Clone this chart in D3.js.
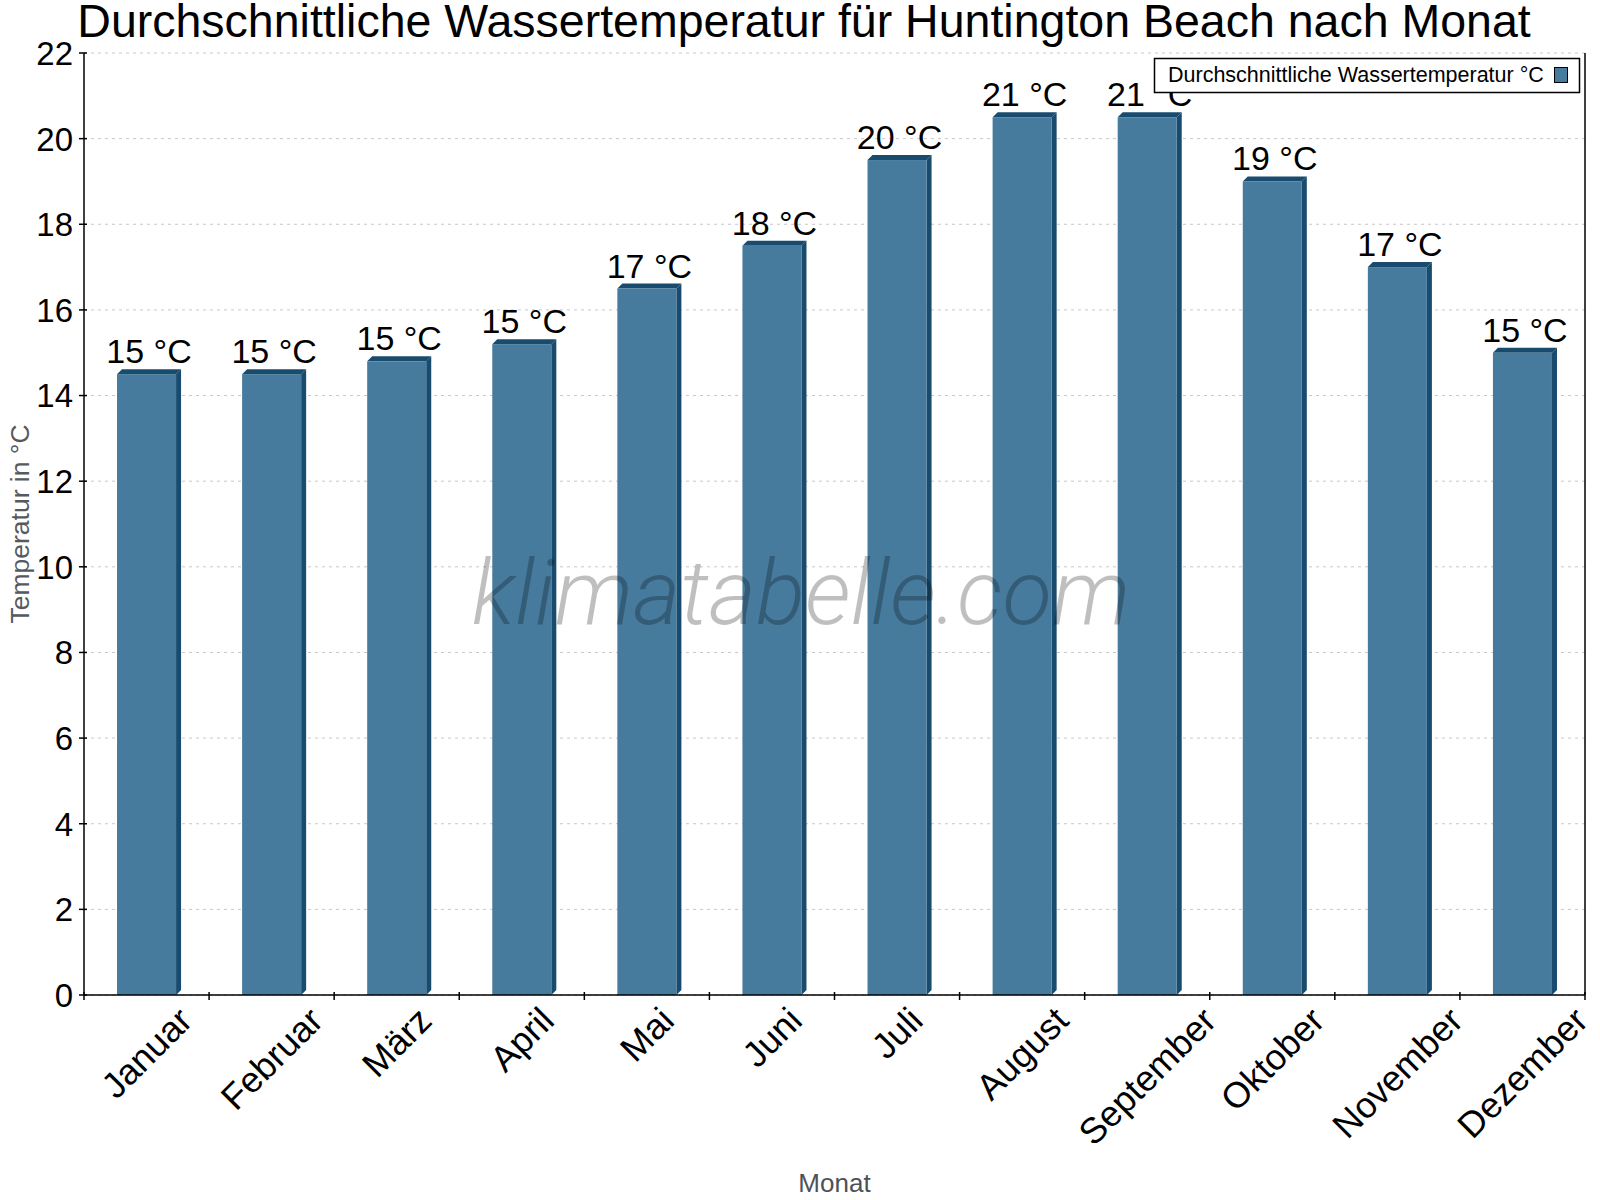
<!DOCTYPE html>
<html>
<head>
<meta charset="utf-8">
<script src="https://cdn.jsdelivr.net/npm/d3@7/dist/d3.min.js"></script>
<style>
    html, body { margin: 0; padding: 0; background: #fff; overflow: hidden; }
    svg { display: block; font-family: "Liberation Sans", Arial, sans-serif; }
</style>
</head>
<body>
<div id="chart"></div>
<script>
// Wassertemperatur Huntington Beach — Säulendiagramm mit 3D-Effekt

const months = ['Januar', 'Februar', 'März', 'April', 'Mai', 'Juni',
    'Juli', 'August', 'September', 'Oktober', 'November', 'Dezember'];
const waterTemps = [14.5, 14.5, 14.8, 15.2, 16.5, 17.5, 19.5, 20.5, 20.5, 19.0, 17.0, 15.0];
const valueLabels = ['15 °C', '15 °C', '15 °C', '15 °C', '17 °C', '18 °C',
    '20 °C', '21 °C', '21 °C', '19 °C', '17 °C', '15 °C'];
const yTicks = [0, 2, 4, 6, 8, 10, 12, 14, 16, 18, 20, 22];

const width = 1600;
const height = 1200;
const margin = { top: 53, right: 15, bottom: 205, left: 84 };
const innerWidth = width - margin.left - margin.right;
const innerHeight = height - margin.top - margin.bottom;
const depth = 5;

const frontColor = '#467b9e';
const sideColor = '#184b6e';

const svg = d3.select('#chart')
    .append('svg')
    .attr('width', width)
    .attr('height', height);

const g = svg.append('g')
    .attr('transform', `translate(${margin.left},${margin.top})`);

const xScale = d3.scaleBand()
    .domain(months)
    .range([0, innerWidth])
    .padding(0);

const yScale = d3.scaleLinear()
    .domain([0, 22])
    .range([innerHeight, 0]);

const barWidth = xScale.bandwidth() * 0.472;

// grid
g.selectAll('.grid')
    .data(yTicks)
    .enter()
    .append('line')
    .attr('x1', 0)
    .attr('x2', innerWidth)
    .attr('y1', d => yScale(d))
    .attr('y2', d => yScale(d))
    .attr('stroke', '#c8c8c8')
    .attr('stroke-width', 1)
    .attr('stroke-dasharray', '3,4');

// bars
months.forEach((m, i) => {
    const x0 = xScale(m) + (xScale.bandwidth() - barWidth) / 2;
    const x1 = x0 + barWidth;
    const yTop = yScale(waterTemps[i]);
    const yBase = yScale(0);

    g.append('polygon')
        .attr('points', [[x1, yTop], [x1 + depth, yTop - depth], [x1 + depth, yBase - depth], [x1, yBase]].join(' '))
        .attr('fill', sideColor);

    g.append('polygon')
        .attr('points', [[x0, yTop], [x0 + depth, yTop - depth], [x1 + depth, yTop - depth], [x1, yTop]].join(' '))
        .attr('fill', sideColor);

    g.append('rect')
        .attr('x', x0)
        .attr('y', yTop)
        .attr('width', barWidth)
        .attr('height', yBase - yTop)
        .attr('fill', frontColor);
});

// watermark
svg.append('text')
    .attr('x', 801)
    .attr('y', 624)
    .attr('text-anchor', 'middle')
    .attr('font-family', 'Roboto, sans-serif')
    .attr('font-style', 'italic')
    .attr('font-weight', 300)
    .attr('font-size', '91px')
    .attr('fill', 'rgba(0,0,0,0.25)')
    .text('klimatabelle.com');

// value labels
months.forEach((m, i) => {
    g.append('text')
        .attr('x', xScale(m) + xScale.bandwidth() / 2 + depth / 2)
        .attr('y', yScale(waterTemps[i]) - depth - 6)
        .attr('text-anchor', 'middle')
        .attr('fill', '#000')
        .attr('font-size', '34px')
        .text(valueLabels[i]);
});

// axes frame
g.append('line')
    .attr('x1', 0).attr('x2', 0)
    .attr('y1', 0).attr('y2', innerHeight)
    .attr('stroke', '#000').attr('stroke-width', 1.5);

g.append('line')
    .attr('x1', innerWidth).attr('x2', innerWidth)
    .attr('y1', 0).attr('y2', innerHeight)
    .attr('stroke', '#000').attr('stroke-width', 1.5);

g.append('line')
    .attr('x1', 0).attr('x2', innerWidth)
    .attr('y1', innerHeight).attr('y2', innerHeight)
    .attr('stroke', '#000').attr('stroke-width', 1.5);

// y ticks
yTicks.forEach(t => {
    g.append('line')
        .attr('x1', -5).attr('x2', 3)
        .attr('y1', yScale(t)).attr('y2', yScale(t))
        .attr('stroke', '#000').attr('stroke-width', 1.5);

    g.append('text')
        .attr('x', -11)
        .attr('y', yScale(t))
        .attr('dy', '0.36em')
        .attr('text-anchor', 'end')
        .attr('fill', '#000')
        .attr('font-size', '33px')
        .text(t);
});

// x ticks at category boundaries
const boundaries = months.map(m => xScale(m)).concat([innerWidth]);
boundaries.forEach(bx => {
    g.append('line')
        .attr('x1', bx).attr('x2', bx)
        .attr('y1', innerHeight - 3).attr('y2', innerHeight + 5)
        .attr('stroke', '#000').attr('stroke-width', 1.5);
});

// rotated month labels, centred on the category
months.forEach(m => {
    const cx = xScale(m) + xScale.bandwidth() / 2;
    const label = g.append('text')
        .attr('text-anchor', 'middle')
        .attr('dominant-baseline', 'central')
        .attr('fill', '#000')
        .attr('font-size', '36px')
        .text(m);
    const len = label.node().getComputedTextLength();
    const cy = innerHeight + 9 + (len + 28) * Math.SQRT1_2 / 2;
    label.attr('transform', `translate(${cx},${cy}) rotate(-45)`);
});

// axis titles
svg.append('text')
    .attr('x', margin.left + innerWidth / 2)
    .attr('y', 1192)
    .attr('text-anchor', 'middle')
    .attr('fill', '#4d5257')
    .attr('font-size', '26px')
    .text('Monat');

svg.append('text')
    .attr('transform', `translate(29,${margin.top + innerHeight / 2}) rotate(-90)`)
    .attr('text-anchor', 'middle')
    .attr('fill', '#555a60')
    .attr('font-size', '26.5px')
    .text('Temperatur in °C');

// title
svg.append('text')
    .attr('x', 804)
    .attr('y', 37)
    .attr('text-anchor', 'middle')
    .attr('fill', '#000')
    .attr('font-size', '46.5px')
    .text('Durchschnittliche Wassertemperatur für Huntington Beach nach Monat');

// legend
const legend = svg.append('g');
legend.append('rect')
    .attr('x', 1154.5)
    .attr('y', 58.5)
    .attr('width', 425)
    .attr('height', 34)
    .attr('fill', '#fff')
    .attr('stroke', '#000')
    .attr('stroke-width', 1.5);

legend.append('text')
    .attr('x', 1168)
    .attr('y', 82)
    .attr('fill', '#000')
    .attr('font-size', '21.5px')
    .text('Durchschnittliche Wassertemperatur °C');

legend.append('rect')
    .attr('x', 1554.5)
    .attr('y', 67.5)
    .attr('width', 13)
    .attr('height', 15)
    .attr('fill', frontColor)
    .attr('stroke', '#000')
    .attr('stroke-width', 1);
</script>
</body>
</html>
